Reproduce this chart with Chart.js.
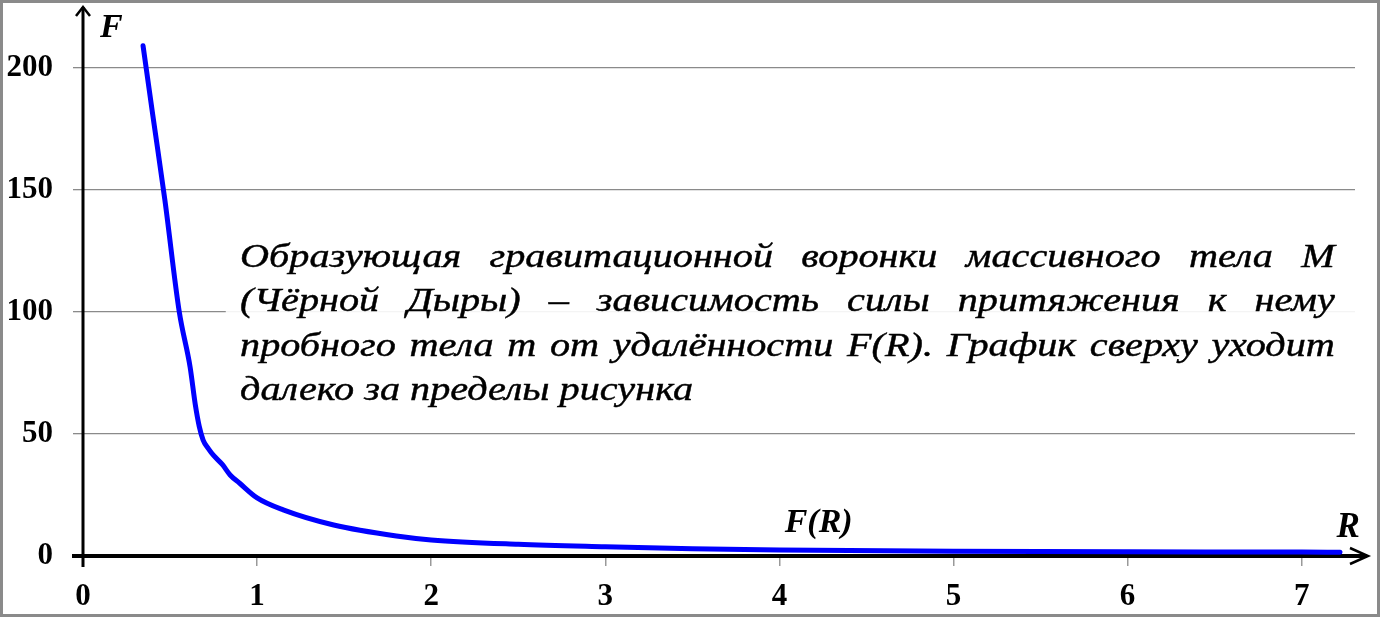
<!DOCTYPE html>
<html><head><meta charset="utf-8">
<script src="https://cdn.jsdelivr.net/npm/chart.js@4.4.0/dist/chart.umd.min.js"></script>
<style>html,body{margin:0;padding:0;background:#fff;overflow:hidden}#wrap{width:1380px;height:617px;position:relative}</style>
</head><body><div id="wrap"><canvas id="c" width="1380" height="617"></canvas></div>
<script>
// ---- data ----
const radiusR = [0.345, 0.40, 0.47, 0.553, 0.615, 0.645, 0.668, 0.69, 0.72, 0.75, 0.80, 0.845, 0.90, 1.0, 1.15, 1.44, 1.8, 2.0, 2.5, 3.0, 3.5, 4.0, 5.0, 6.0, 7.0, 7.22];
const forceF  = [209, 181, 146, 100, 77.5, 62, 53, 47.5, 44, 41.2, 37.5, 33.2, 29.8, 23.8, 18.9, 12.7, 8.2, 6.6, 4.8, 3.8, 3.0, 2.5, 1.9, 1.7, 1.6, 1.5];
const xTicks = [0, 1, 2, 3, 4, 5, 6, 7];
const yTicks = [0, 50, 100, 150, 200];
const axisLabelY = 'F';
const axisLabelX = 'R';
const curveLabel = 'F(R)';
const noteLines = [
  'Образующая гравитационной воронки массивного тела М',
  '(Чёрной Дыры) – зависимость силы притяжения к нему',
  'пробного тела m от удалённости F(R). График сверху уходит',
  'далеко за пределы рисунка'
];

const SERIF = '"Liberation Serif", "Times New Roman", serif';

const decor = {
  id: 'decor',
  beforeDraw(chart) {
    const c = chart.ctx;
    c.save(); c.fillStyle = '#fff'; c.fillRect(0, 0, chart.width, chart.height); c.restore();
  },
  beforeDatasetsDraw(chart) {
    const c = chart.ctx, xs = chart.scales.x, ys = chart.scales.y, ca = chart.chartArea;
    const bx = xs.getPixelForValue(0.82), bx2 = ca.right + 1;
    const by = ys.getPixelForValue(132), by2 = ys.getPixelForValue(56);
    c.save();
    c.fillStyle = 'rgba(255,255,255,0.9)';
    c.fillRect(bx, by, bx2 - bx, by2 - by);
    c.fillStyle = '#000';
    c.strokeStyle = '#000';
    c.lineWidth = 0.45;
    c.font = 'italic 34px ' + SERIF;
    c.textBaseline = 'alphabetic';
    const left = xs.getPixelForValue(0.902), right = xs.getPixelForValue(7.19);
    const lastEnd = xs.getPixelForValue(3.504);
    const sx = (lastEnd - left) / c.measureText(noteLines[noteLines.length - 1]).width;
    const baseF = [118.4, 100.2, 82.0, 63.9];
    noteLines.forEach((line, i) => {
      const y = ys.getPixelForValue(baseF[i]);
      c.save();
      c.translate(left, y);
      c.scale(sx, 1);
      const span = (right - left) / sx;
      const draw = (t, x) => { c.fillText(t, x, 0); c.strokeText(t, x, 0); };
      if (i < noteLines.length - 1) {
        const words = line.split(' ');
        const widths = words.map(w => c.measureText(w).width);
        const sum = widths.reduce((a, b) => a + b, 0);
        const gap = (span - sum) / (words.length - 1);
        let x = 0;
        words.forEach((w, k) => { draw(w, x); x += widths[k] + gap; });
      } else {
        draw(line, 0);
      }
      c.restore();
    });
    c.restore();

    const x0 = xs.getPixelForValue(0), y0 = ys.getPixelForValue(0);
    c.save();
    c.strokeStyle = '#000';
    c.lineCap = 'butt';
    c.lineWidth = 3;
    c.beginPath(); c.moveTo(x0, y0 + 11); c.lineTo(x0, 7); c.stroke();
    c.lineWidth = 2.5;
    c.beginPath(); c.moveTo(x0 - 7, 16); c.lineTo(x0, 7); c.lineTo(x0 + 7, 16); c.stroke();
    c.lineWidth = 4;
    c.beginPath(); c.moveTo(x0 - 11, y0); c.lineTo(1367, y0); c.stroke();
    c.lineWidth = 2.5;
    c.beginPath(); c.moveTo(1350, y0 - 8); c.lineTo(1368, y0); c.lineTo(1350, y0 + 8); c.stroke();
    c.restore();
  },
  afterDraw(chart) {
    const c = chart.ctx, xs = chart.scales.x, ys = chart.scales.y;
    c.save();
    c.fillStyle = '#000';
    c.textBaseline = 'alphabetic';
    c.font = 'italic bold 34px ' + SERIF;
    c.fillText(axisLabelY, xs.getPixelForValue(0.098), ys.getPixelForValue(212.7));
    c.font = 'italic bold 35px ' + SERIF;
    c.fillText(axisLabelX, xs.getPixelForValue(7.2), ys.getPixelForValue(7.8));
    c.font = 'italic bold 34px ' + SERIF;
    c.fillText(curveLabel, xs.getPixelForValue(4.03), ys.getPixelForValue(9.8));
    c.strokeStyle = '#8a8a8a';
    c.lineWidth = 3;
    c.strokeRect(1.5, 1.5, chart.width - 3, chart.height - 3);
    c.restore();
  }
};

new Chart(document.getElementById('c'), {
  type: 'line',
  data: {
    datasets: [{
      data: radiusR.map((r, i) => ({ x: r, y: forceF[i] })),
      borderColor: '#0000ff',
      borderWidth: 5,
      pointRadius: 0,
      fill: false,
      cubicInterpolationMode: 'monotone',
      borderCapStyle: 'round',
      borderJoinStyle: 'round'
    }]
  },
  options: {
    responsive: false,
    animation: false,
    devicePixelRatio: 1,
    layout: { padding: { top: 19, right: 25, left: 0, bottom: 0 } },
    plugins: { legend: { display: false }, tooltip: { enabled: false } },
    scales: {
      x: {
        type: 'linear', min: 0, max: 7.306,
        afterBuildTicks: s => { s.ticks = xTicks.map(v => ({ value: v })); },
        afterFit: s => { s.height = 61; s.paddingLeft = 0; s.paddingRight = 0; },
        border: { display: false },
        grid: { drawOnChartArea: false, drawTicks: true, tickLength: 10, color: '#999', lineWidth: 1.5 },
        ticks: { color: '#000', font: { family: SERIF, size: 31, weight: 'bold' }, padding: 12, maxRotation: 0 }
      },
      y: {
        type: 'linear', min: 0, max: 220,
        afterBuildTicks: s => { s.ticks = yTicks.map(v => ({ value: v })); },
        afterFit: s => { s.width = 83; s.paddingTop = 0; s.paddingBottom = 0; },
        border: { display: false },
        grid: { drawOnChartArea: true, drawTicks: true, tickLength: 10, color: '#8a8a8a', lineWidth: 1.3 },
        ticks: { color: '#000', font: { family: SERIF, size: 31, weight: 'bold' }, padding: 20 }
      }
    }
  },
  plugins: [decor]
});
</script>
</body></html>
